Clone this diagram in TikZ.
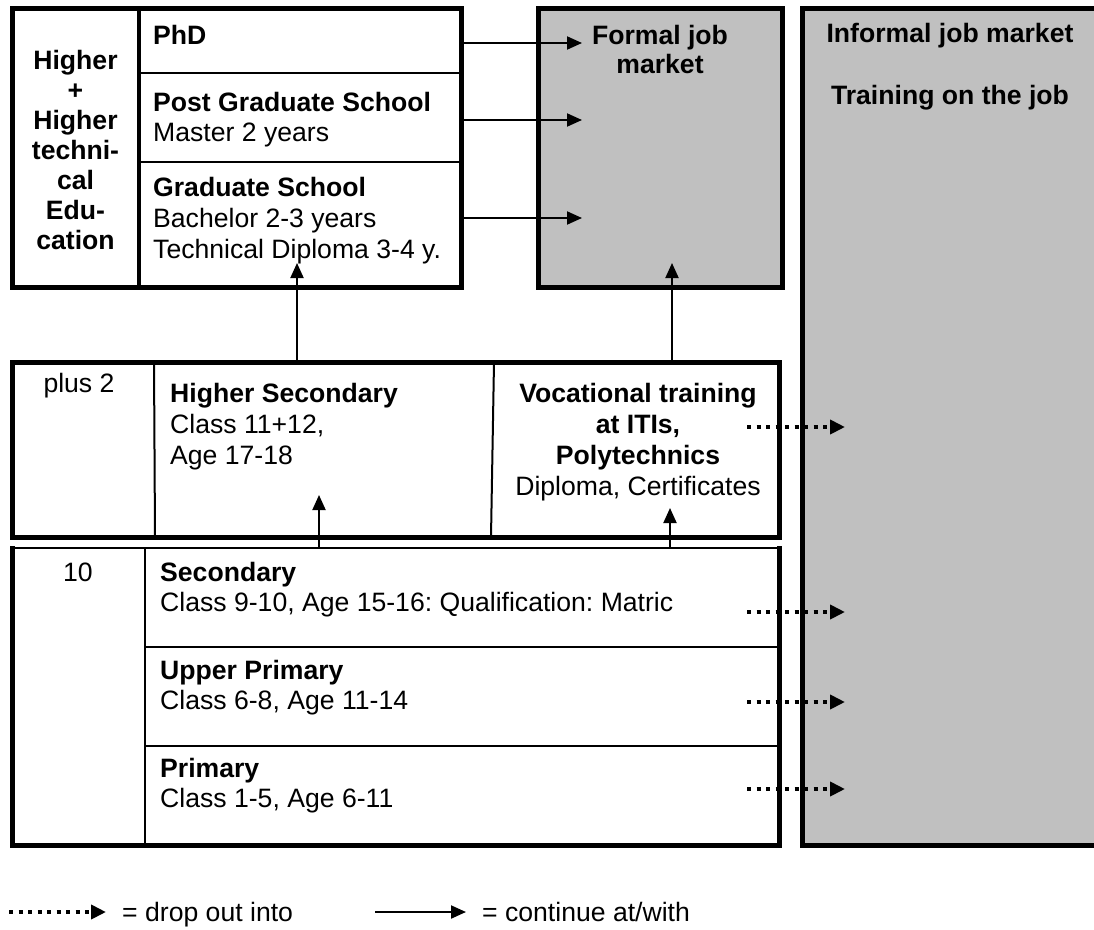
\documentclass[tikz,border=0pt]{standalone}
\usepackage{fontspec}
\setmainfont{Liberation Sans}
\usetikzlibrary{arrows.meta}
\definecolor{boxgray}{RGB}{192,192,192}
\frenchspacing
\begin{document}
\begin{tikzpicture}[x=1pt,y=-1pt,
  font=\fontsize{26.6}{30}\selectfont,
  thickbox/.style={draw, line width=5pt, inner sep=0pt, outer sep=0pt},
  thinline/.style={line width=2pt},
  thickline/.style={line width=5pt},
  cont/.style={line width=2pt, -{Triangle[length=15pt,width=13pt]}},
  dropout/.style={line width=4pt, dash pattern=on 4pt off 5.5pt, -{Triangle[length=15pt,width=14pt]}},
  txtl/.style={inner sep=0pt, anchor=north west, align=left},
  txtc/.style={inner sep=0pt, anchor=north, align=center},
  bftxt/.style={font=\fontsize{26.6}{30}\selectfont\bfseries},
]
\useasboundingbox[fill=white] (0,0) rectangle (1094,929);

% ---------- higher education box ----------
\node[thickbox, minimum width=449pt, minimum height=279pt] (hed) at (236.5,147.5) {};
\draw[line width=4pt] (139,8) -- (139,287);
\draw[thinline] (139,73) -- (461,73);
\draw[thinline] (139,162) -- (461,162);
\node[txtc, bftxt] (hedtxt) at (75.5,50)
  {Higher\\+\\Higher\\techni-\\cal\\Edu-\\cation};
\node[txtl, bftxt] (phd) at (153,25) {PhD};
\node[txtl] (pgs) at (153,92) {\textbf{Post Graduate School}\\Master 2 years};
\node[txtl, font=\fontsize{26.6}{31}\selectfont] (gs) at (153,177)
  {\textbf{Graduate School}\\Bachelor 2-3 years\\Technical Diploma 3-4 y.};

% ---------- formal job market ----------
\node[thickbox, fill=boxgray, minimum width=244pt, minimum height=279pt] (formal) at (660,147.5) {};
\node[txtc, font=\fontsize{26.6}{29}\selectfont\bfseries] (formaltxt) at (660,25) {Formal job\\market};

% ---------- informal job market ----------
\path[fill=boxgray] (802,8) rectangle (1100,845);
\draw[thickline] (1100,8) -- (802,8) -- (802,845) -- (1100,845);
\coordinate (informal) at (950,430);
\node[txtc, bftxt] (informaltxt) at (950,23) {Informal job market};
\node[txtc, bftxt] (trainingtxt) at (950,85) {Training on the job};

% ---------- plus 2 box ----------
\node[thickbox, minimum width=767pt, minimum height=175pt] (plustwo) at (395.5,449.5) {};
\draw[thinline] (154,362) -- (155,537);
\draw[thinline] (494,362) -- (491,537);
\node[txtc] (plustxt) at (79,373) {plus 2};
\node[txtl, font=\fontsize{26.6}{31}\selectfont] (hsec) at (170,383)
  {\textbf{Higher Secondary}\\Class 11+12,\\Age 17-18};
\node[txtc, font=\fontsize{26.6}{31}\selectfont] (voc) at (638,383)
  {\textbf{Vocational training}\\\textbf{at ITIs,}\\\textbf{Polytechnics}\\Diploma, Certificates};

% ---------- school box ----------
\draw[thinline] (12,548) -- (779,548);
\draw[thickline] (12,546) -- (12,845) -- (779,845) -- (779,546);
\draw[thinline] (145,548) -- (145,845);
\draw[thinline] (145,647) -- (779,647);
\draw[thinline] (145,746) -- (779,746);
\coordinate (school) at (395.5,696);
\node[txtc] (tentxt) at (78,563) {10};
\node[txtl] (sec) at (160,562) {\textbf{Secondary}\\Class 9-10, Age 15-16: Qualification: Matric};
\node[txtl] (upr) at (160,660) {\textbf{Upper Primary}\\Class 6-8, Age 11-14};
\node[txtl] (pri) at (160,758) {\textbf{Primary}\\Class 1-5, Age 6-11};

% ---------- continue arrows ----------
\coordinate (t1) at (582,43);
\coordinate (t2) at (582,120);
\coordinate (t3) at (582,218);
\draw[cont] (hed.east |- t1) -- (t1);
\draw[cont] (hed.east |- t2) -- (t2);
\draw[cont] (hed.east |- t3) -- (t3);
\coordinate (u1) at (297,263);
\coordinate (u2) at (672,263);
\draw[cont] (plustwo.north -| u1) -- (u1);
\draw[cont] (plustwo.north -| u2) -- (u2);
\coordinate (v1) at (319,495);
\coordinate (v2) at (670,508);
\draw[cont] (319,548) -- (v1);
\draw[cont] (670,548) -- (v2);

% ---------- drop out arrows ----------
\foreach \yy/\nm in {427/d1, 612/d2, 702/d3, 789/d4}{
  \coordinate (\nm s) at (747,\yy);
  \coordinate (\nm e) at (845,\yy);
  \draw[dropout] (\nm s) -- (\nm e);
}

% ---------- legend ----------
\coordinate (ld1) at (9,912);
\coordinate (ld2) at (106,912);
\draw[dropout] (ld1) -- (ld2);
\node[inner sep=0pt, anchor=base west] (droptxt) at (122,921) {= drop out into};
\coordinate (lc1) at (375,912);
\coordinate (lc2) at (466,912);
\draw[cont] (lc1) -- (lc2);
\node[inner sep=0pt, anchor=base west] (conttxt) at (482,921) {= continue at/with};
\end{tikzpicture}
\end{document}
